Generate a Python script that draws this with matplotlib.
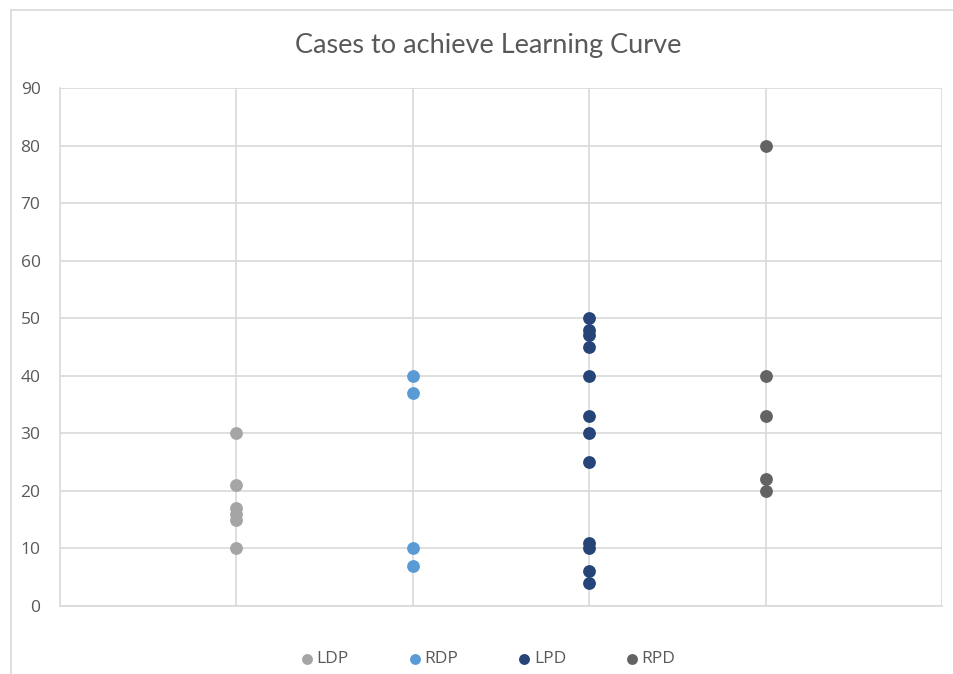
import matplotlib
matplotlib.use("Agg")
import matplotlib.pyplot as plt
from matplotlib.lines import Line2D

series = ["LDP", "RDP", "LPD", "RPD"]
x_pos = [1, 2, 3, 4]
ldp = [30, 21, 17, 16, 15, 10]
rdp = [40, 37, 10, 7]
lpd = [50, 48, 47, 45, 40, 33, 30, 25, 11, 10, 6, 4]
rpd = [80, 40, 33, 22, 20]
values = [ldp, rdp, lpd, rpd]
colors = ["#A5A5A5", "#5B9BD5", "#264478", "#636363"]
yticks = [0, 10, 20, 30, 40, 50, 60, 70, 80, 90]

W, H = 954, 674
fig = plt.figure(figsize=(W / 100, H / 100), dpi=100)
fig.patch.set_facecolor("white")

# outer chart border (screenshot crop)
fig.add_artist(Line2D([11 / W, 11 / W], [0, 1 - 10 / H], transform=fig.transFigure,
                      color="#D9D9D9", lw=1.2))
fig.add_artist(Line2D([11 / W, 1], [1 - 10 / H, 1 - 10 / H], transform=fig.transFigure,
                      color="#D9D9D9", lw=1.2))

ax = fig.add_axes([60 / W, (H - 606) / H, 882 / W, 518 / H])
for xv, vals, c, name in zip(x_pos, values, colors, series):
    ax.scatter([xv] * len(vals), vals, s=85, color=c, zorder=3, label=name, linewidths=0)

ax.set_xlim(0, 5)
ax.set_ylim(0, 90)
ax.set_yticks(yticks)
ax.set_xticks([1, 2, 3, 4, 5])
ax.tick_params(axis="x", which="both", length=0, labelbottom=False)
ax.tick_params(axis="y", length=0, labelsize=12.5, labelcolor="#595959", pad=14)
for lab in ax.get_yticklabels():
    lab.set_fontfamily("Open Sans")
ax.grid(True, color="#D9D9D9", lw=1.2, zorder=0)
for side in ["top", "right"]:
    ax.spines[side].set_visible(False)
ax.spines["left"].set_color("#D9D9D9")
ax.spines["bottom"].set_color("#D9D9D9")
ax.spines["left"].set_linewidth(1.2)
ax.spines["bottom"].set_linewidth(1.2)
ax.set_axisbelow(True)

fig.text(488 / W, 1 - 45 / H, "Cases to achieve Learning Curve", ha="center", va="center",
         fontsize=19.5, color="#595959", family="Lato")

leg = fig.legend(loc="center", bbox_to_anchor=(487 / W, 1 - 659 / H), ncol=4, frameon=False,
                 handletextpad=0.05, columnspacing=3.3, handlelength=1.0,
                 prop={"family": "Open Sans", "size": 12.5}, markerscale=0.85)
for t in leg.get_texts():
    t.set_color("#595959")

fig.savefig("out.png", dpi=100)
